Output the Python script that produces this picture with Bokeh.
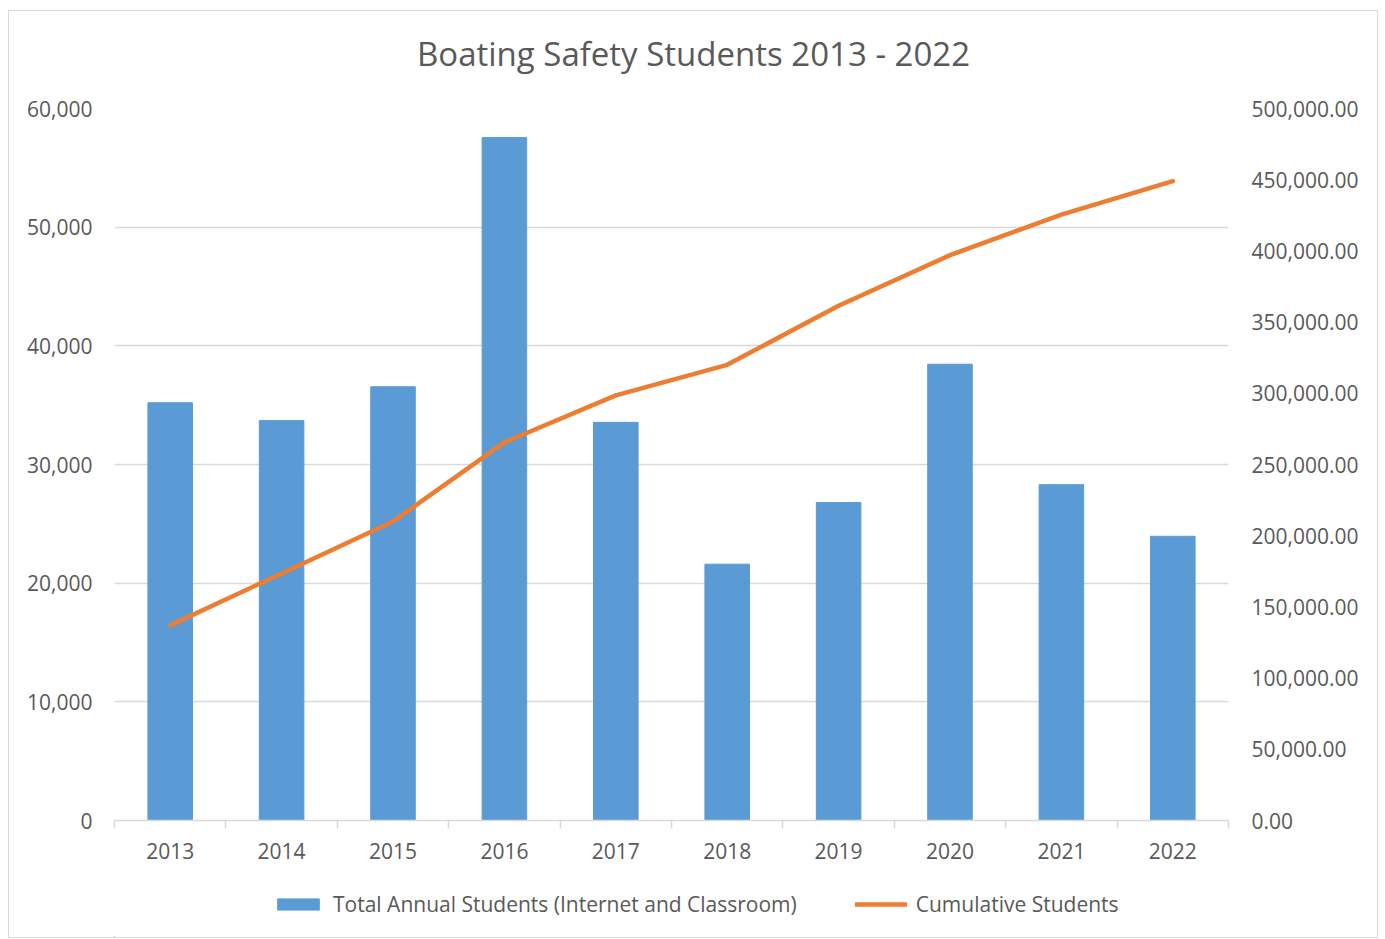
import numpy as np
from bokeh.plotting import figure
from bokeh.layouts import column
from bokeh.core.properties import value
from bokeh.models import (Range1d, LinearAxis, FixedTicker, SingleIntervalTicker,
                          NumeralTickFormatter, Legend, LegendItem, ColumnDataSource)
from bokeh.embed import file_html
from bokeh.resources import INLINE

years = [2013, 2014, 2015, 2016, 2017, 2018, 2019, 2020, 2021, 2022]
annual_students = [35200, 33700, 36550, 57550, 33550, 21600, 26800, 38450, 28300, 23950]
cumulative_students = [137000, 173500, 210000, 265500, 298500, 320000, 361500, 397000, 425500, 449000]
title_text = "Boating Safety Students 2013 - 2022"
bar_label = "Total Annual Students (Internet and Classroom)"
line_label = "Cumulative Students"

FONT = "Open Sans"
TXT = "#595959"
GRID = "#D9D9D9"
BLUE = "#5B9BD5"
ORANGE = "#ED7D31"

src = ColumnDataSource(dict(year=years, annual=annual_students, cum=cumulative_students))

W = 1368
H0, H1, H2 = 70, 791, 65
BL, BR = 105, 149


def strip(height):
    f = figure(width=W, height=height, output_backend="svg", toolbar_location=None,
               x_range=Range1d(BL, W - BR), y_range=Range1d(0, height),
               x_axis_location=None, y_axis_location=None,
               min_border_left=BL, min_border_right=BR, min_border_top=0, min_border_bottom=0)
    f.outline_line_color = None
    f.grid.visible = False
    f.background_fill_color = "white"
    f.border_fill_color = "white"
    return f


# title strip
tf = strip(H0)
tf.text(x=[W / 2], y=[28], text=[title_text], text_font=value(FONT), text_font_size="33px",
        text_color=TXT, text_align="center", text_baseline="middle")

# main chart
p = figure(width=W, height=H1, output_backend="svg", toolbar_location=None,
           x_range=Range1d(years[0] - 0.5, years[-1] + 0.5),
           y_range=Range1d(0, 60000),
           min_border_left=BL, min_border_right=BR, min_border_top=27, min_border_bottom=52)
p.outline_line_color = None
p.background_fill_color = "white"
p.border_fill_color = "white"

p.extra_y_ranges = {"cum": Range1d(0, 500000)}

p.xgrid.grid_line_color = None
p.ygrid.grid_line_color = GRID
p.ygrid.grid_line_width = 1.5
p.ygrid.ticker = SingleIntervalTicker(interval=10000)

bar_style = dict(fill_color=BLUE, line_color=BLUE)
line_style = dict(line_color=ORANGE, line_width=4.5, line_cap="round", line_join="round")

p.vbar(x="year", top="annual", width=0.4, source=src, **bar_style)
p.line(x="year", y="cum", source=src, y_range_name="cum", **line_style)

xa = p.xaxis[0]
xa.ticker = FixedTicker(ticks=years, minor_ticks=[y - 0.5 for y in years] + [years[-1] + 0.5])
xa.axis_line_color = GRID
xa.axis_line_width = 1.5
xa.major_tick_line_color = None
xa.minor_tick_line_color = GRID
xa.minor_tick_line_width = 1.5
xa.minor_tick_out = 8
xa.minor_tick_in = 0
xa.major_label_text_font = FONT
xa.major_label_text_font_size = "21px"
xa.major_label_text_color = TXT
xa.major_label_standoff = 14

ya = p.yaxis[0]
ya.ticker = SingleIntervalTicker(interval=10000)
ya.formatter = NumeralTickFormatter(format="0,0")
ya.axis_line_color = None
ya.major_tick_line_color = None
ya.minor_tick_line_color = None
ya.major_label_text_font = FONT
ya.major_label_text_font_size = "21px"
ya.major_label_text_color = TXT
ya.major_label_standoff = 16

ra = LinearAxis(y_range_name="cum", ticker=SingleIntervalTicker(interval=50000),
                formatter=NumeralTickFormatter(format="0,0.00"))
ra.axis_line_color = None
ra.major_tick_line_color = None
ra.minor_tick_line_color = None
ra.major_label_text_font = FONT
ra.major_label_text_font_size = "21px"
ra.major_label_text_color = TXT
ra.major_label_standoff = 17
p.add_layout(ra, "right")

# legend strip
lg = strip(H2)
kb = lg.vbar(x=[-1000], top=[1], width=0.4, **bar_style)
kl = lg.line(x=[-1000, -999], y=[1, 1], **line_style)

legend = Legend(items=[LegendItem(label=bar_label, renderers=[kb]),
                       LegendItem(label=line_label, renderers=[kl])],
                orientation="horizontal", location=(158, 19))
legend.border_line_color = None
legend.background_fill_alpha = 0
legend.padding = 0
legend.margin = 0
legend.spacing = 58
legend.glyph_width = 52
legend.glyph_height = 14
legend.label_standoff = 9
legend.label_text_font = FONT
legend.label_text_font_size = "21px"
legend.label_text_color = TXT
lg.add_layout(legend)

layout = column(tf, p, lg, spacing=0)
layout.styles = {"border": "1px solid #D9D9D9", "margin-left": "8px", "margin-top": "10px",
                 "background-color": "white"}

open("out.html", "w").write(file_html(layout, INLINE))
